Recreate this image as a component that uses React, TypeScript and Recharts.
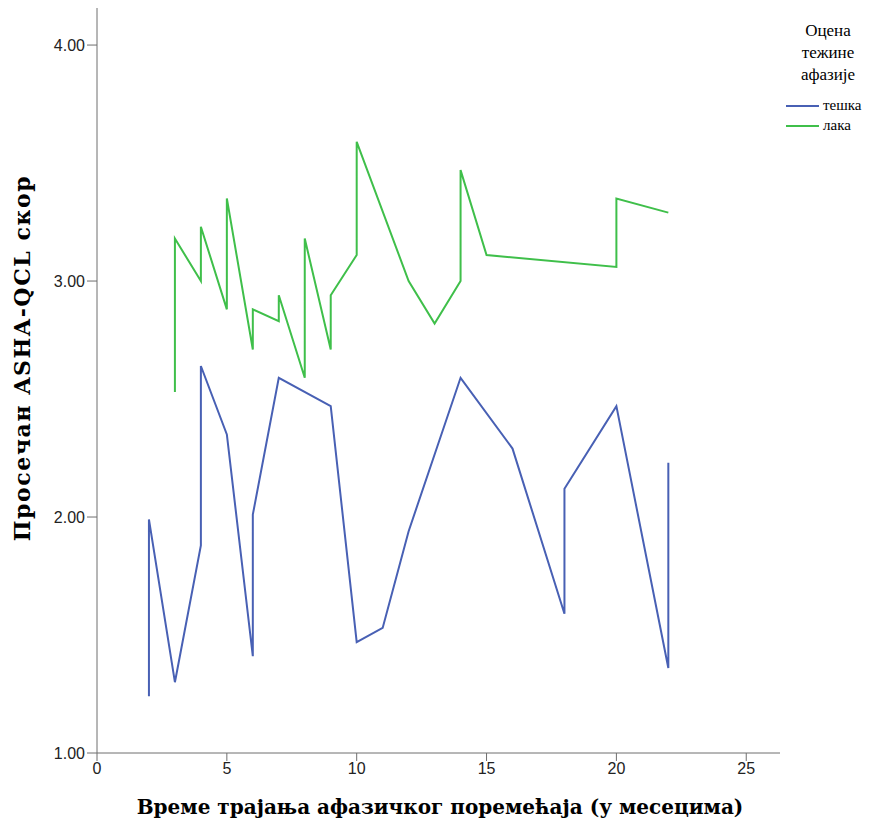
import { LineChart, Line, XAxis, YAxis } from 'recharts';

// тешка (severe) — values in plotted order, repeated x = several patients same month
const severeMonths = [2, 2, 3, 4, 4, 5, 6, 6, 7, 9, 10, 11, 12, 14, 16, 18, 18, 20, 22, 22];
const severeScores = [1.24, 1.99, 1.30, 1.88, 2.64, 2.35, 1.41, 2.01, 2.59, 2.47, 1.47, 1.53, 1.94, 2.59, 2.29, 1.59, 2.12, 2.47, 1.36, 2.23];

// лака (mild)
const mildMonths = [3, 3, 4, 4, 5, 5, 6, 6, 7, 7, 8, 8, 9, 9, 10, 10, 12, 13, 14, 14, 15, 20, 20, 22];
const mildScores = [2.53, 3.18, 3.00, 3.23, 2.88, 3.35, 2.71, 2.88, 2.83, 2.94, 2.59, 3.18, 2.71, 2.94, 3.11, 3.59, 3.00, 2.82, 3.00, 3.47, 3.11, 3.06, 3.35, 3.29];

const xTicks = [0, 5, 10, 15, 20, 25];
const yTicks = [1, 2, 3, 4];

const severeData = severeMonths.map((x, i) => ({ x, y: severeScores[i] }));
const mildData = mildMonths.map((x, i) => ({ x, y: mildScores[i] }));

const BLUE = '#4860b4';
const GREEN = '#3fbf4a';
const AXIS = '#6e6e6e';

const titleFont = '"DejaVu Serif", serif';
const serif = '"Liberation Serif", "Times New Roman", serif';
const sans = '"Liberation Sans", Arial, sans-serif';

const YTitle = () => (
    <text
        x={22}
        y={358}
        transform="rotate(-90 22 358)"
        textAnchor="middle"
        dominantBaseline="central"
        fontFamily={titleFont}
        fontWeight="bold"
        fontSize={22}
        letterSpacing={1.6}
        fill="#000"
    >
        Просечан ASHA-QCL скор
    </text>
);

const XTitle = () => (
    <text
        x={440}
        y={807}
        textAnchor="middle"
        dominantBaseline="central"
        fontFamily={titleFont}
        fontWeight="bold"
        fontSize={20}
        fill="#000"
    >
        Време трајања афазичког поремећаја (у месецима)
    </text>
);

export default function App() {
    return (
        <div style={{ position: 'absolute', left: 0, top: 0, width: 874, height: 827, background: '#fff' }}>
            <LineChart width={874} height={827} margin={{ top: 8, right: 94, left: 0, bottom: 0 }}>
                <XAxis
                    type="number"
                    dataKey="x"
                    domain={[0, 26.3]}
                    ticks={xTicks}
                    allowDataOverflow
                    height={74}
                    stroke={AXIS}
                    tickSize={8}
                    tick={{ fontSize: 16, fontFamily: sans, fill: '#222' }}
                    label={<XTitle />}
                />
                <YAxis
                    type="number"
                    dataKey="y"
                    domain={[1, 4.157]}
                    ticks={yTicks}
                    allowDataOverflow
                    width={97}
                    stroke={AXIS}
                    tickSize={10}
                    tickFormatter={(v: number) => v.toFixed(2)}
                    tick={{ fontSize: 16, fontFamily: sans, fill: '#222' }}
                    label={<YTitle />}
                />
                <Line data={severeData} dataKey="y" type="linear" stroke={BLUE} strokeWidth={2} dot={false} isAnimationActive={false} />
                <Line data={mildData} dataKey="y" type="linear" stroke={GREEN} strokeWidth={2} dot={false} isAnimationActive={false} />
            </LineChart>
            <div style={{ position: 'absolute', left: 782, top: 20, width: 92, fontFamily: serif, fontSize: 17, lineHeight: '22px', textAlign: 'center', color: '#000' }}>
                Оцена<br />тежине<br />афазије
            </div>
            {[{ name: 'тешка', color: BLUE, top: 97 }, { name: 'лака', color: GREEN, top: 117 }].map((item) => (
                <div key={item.name} style={{ position: 'absolute', left: 786, top: item.top, display: 'flex', alignItems: 'center', fontFamily: serif, fontSize: 15, color: '#000' }}>
                    <span style={{ display: 'inline-block', width: 33, height: 2, background: item.color, marginRight: 4 }} />
                    {item.name}
                </div>
            ))}
        </div>
    );
}
